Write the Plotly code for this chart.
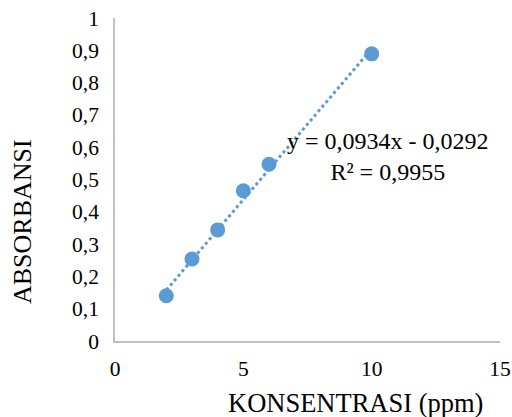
import plotly.graph_objects as go

konsentrasi = [2, 3, 4, 5, 6, 10]
absorbansi = [0.140, 0.254, 0.344, 0.465, 0.547, 0.889]
slope = 0.0934
intercept = -0.0292
x_ticks = [0, 5, 10, 15]
y_ticks = [0, 0.1, 0.2, 0.3, 0.4, 0.5, 0.6, 0.7, 0.8, 0.9, 1]
y_tick_labels = ["0", "0,1", "0,2", "0,3", "0,4", "0,5", "0,6", "0,7", "0,8", "0,9", "1"]
eq_text = "y = 0,0934x - 0,0292<br>R² = 0,9955"
x_title = "KONSENTRASI (ppm)"
y_title = "ABSORBANSI"

blue = "#5B9BD5"
font = "Times New Roman, Liberation Serif, Tinos, DejaVu Serif, serif"

x_line = [min(konsentrasi), max(konsentrasi)]
y_line = [slope * v + intercept for v in x_line]

fig = go.Figure()
fig.add_trace(go.Scatter(x=x_line, y=y_line, mode="lines",
                         line=dict(color=blue, width=3, dash="3px,3px"),
                         hoverinfo="skip", showlegend=False))
fig.add_trace(go.Scatter(x=konsentrasi, y=absorbansi, mode="markers",
                         marker=dict(color=blue, size=15), showlegend=False))

fig.add_annotation(x=10.64, y=0.57, xref="x", yref="y", text=eq_text,
                   showarrow=False, align="center", xanchor="center", yanchor="middle",
                   font=dict(family=font, size=24, color="#000000"))

# axis titles (offset as in the reference)
fig.add_annotation(x=355, y=403, xref="paper", yref="paper", text=x_title,
                   showarrow=False, xanchor="center", yanchor="middle",
                   font=dict(family=font, size=26.5, color="#000000"))
fig.add_annotation(x=22, y=222, xref="paper", yref="paper", text=y_title, textangle=-90,
                   showarrow=False, xanchor="center", yanchor="middle",
                   font=dict(family=font, size=26, color="#000000"))

W, H = 512, 417
ML, MR, MT, MB = 115, 12, 18, 76
pw, ph = W - ML - MR, H - MT - MB
for a in fig.layout.annotations[1:]:
    a.x = (a.x - ML) / pw
    a.y = (H - MB - a.y) / ph

fig.update_layout(
    width=W, height=H,
    margin=dict(l=ML, r=MR, t=MT, b=MB),
    paper_bgcolor="white", plot_bgcolor="white",
    font=dict(family=font, color="#000000"),
)
fig.update_xaxes(range=[0, 15], tickvals=x_ticks, ticktext=[str(v) for v in x_ticks],
                 showgrid=False, zeroline=False, showline=True, linecolor="#BFBFBF",
                 linewidth=1.5, ticks="", tickfont=dict(size=21.5, family=font),
                 ticklabelstandoff=7, automargin=False)
fig.update_yaxes(range=[0, 1], tickvals=y_ticks, ticktext=y_tick_labels,
                 showgrid=False, zeroline=False, showline=True, linecolor="#BFBFBF",
                 linewidth=1.5, ticks="", tickfont=dict(size=21.5, family=font),
                 ticklabelstandoff=10, automargin=False)

fig.write_html("out.html", config={"displayModeBar": False},
               post_script="document.body.style.margin='0';document.body.style.padding='0';")
